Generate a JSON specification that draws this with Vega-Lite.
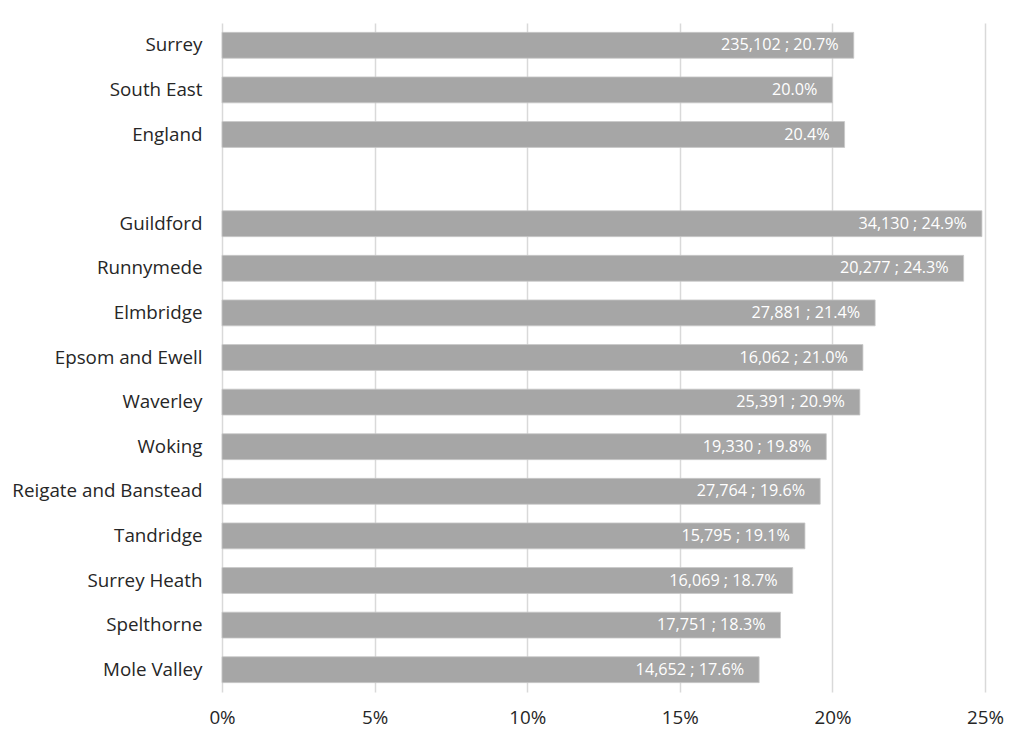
{
  "$schema": "https://vega.github.io/schema/vega-lite/v6.json",
  "width": 763,
  "height": 669,
  "autosize": {"type": "none"},
  "padding": {"left": 222, "top": 23, "right": 39, "bottom": 45},
  "background": "white",
  "config": {
    "view": {"stroke": null},
    "font": "Open Sans"
  },
  "data": {
    "values": [
      {"area": "Surrey", "pct": 20.7, "label": "235,102 ; 20.7%"},
      {"area": "South East", "pct": 20.0, "label": "20.0%"},
      {"area": "England", "pct": 20.4, "label": "20.4%"},
      {"area": " ", "pct": null, "label": ""},
      {"area": "Guildford", "pct": 24.9, "label": "34,130 ; 24.9%"},
      {"area": "Runnymede", "pct": 24.3, "label": "20,277 ; 24.3%"},
      {"area": "Elmbridge", "pct": 21.4, "label": "27,881 ; 21.4%"},
      {"area": "Epsom and Ewell", "pct": 21.0, "label": "16,062 ; 21.0%"},
      {"area": "Waverley", "pct": 20.9, "label": "25,391 ; 20.9%"},
      {"area": "Woking", "pct": 19.8, "label": "19,330 ; 19.8%"},
      {"area": "Reigate and Banstead", "pct": 19.6, "label": "27,764 ; 19.6%"},
      {"area": "Tandridge", "pct": 19.1, "label": "15,795 ; 19.1%"},
      {"area": "Surrey Heath", "pct": 18.7, "label": "16,069 ; 18.7%"},
      {"area": "Spelthorne", "pct": 18.3, "label": "17,751 ; 18.3%"},
      {"area": "Mole Valley", "pct": 17.6, "label": "14,652 ; 17.6%"}
    ]
  },
  "encoding": {
    "y": {
      "field": "area",
      "type": "nominal",
      "scale": {
        "domain": ["Surrey", "South East", "England", " ", "Guildford", "Runnymede", "Elmbridge", "Epsom and Ewell", "Waverley", "Woking", "Reigate and Banstead", "Tandridge", "Surrey Heath", "Spelthorne", "Mole Valley"],
        "paddingInner": 0.42,
        "paddingOuter": 0.21
      },
      "axis": {
        "title": null,
        "domain": false,
        "ticks": false,
        "labelPadding": 20,
        "labelFontSize": 18.8,
        "labelColor": "#262626",
        "labelLimit": 300
      }
    },
    "x": {
      "field": "pct",
      "type": "quantitative",
      "scale": {"domain": [0, 25], "nice": false},
      "axis": {
        "title": null,
        "values": [0, 5, 10, 15, 20, 25],
        "labelExpr": "datum.value + '%'",
        "labelFlush": false,
        "domain": false,
        "ticks": false,
        "grid": true,
        "gridColor": "#d9d9d9",
        "gridWidth": 1.5,
        "labelPadding": 16,
        "labelFontSize": 18.8,
        "labelColor": "#262626"
      }
    }
  },
  "layer": [
    {
      "mark": {"type": "bar", "color": "#a6a6a6", "stroke": "#c8c8c8", "strokeWidth": 0.8}
    },
    {
      "mark": {"type": "text", "align": "right", "baseline": "middle", "dx": -15, "color": "white", "fontSize": 16.2},
      "encoding": {"text": {"field": "label", "type": "nominal"}}
    }
  ]
}
